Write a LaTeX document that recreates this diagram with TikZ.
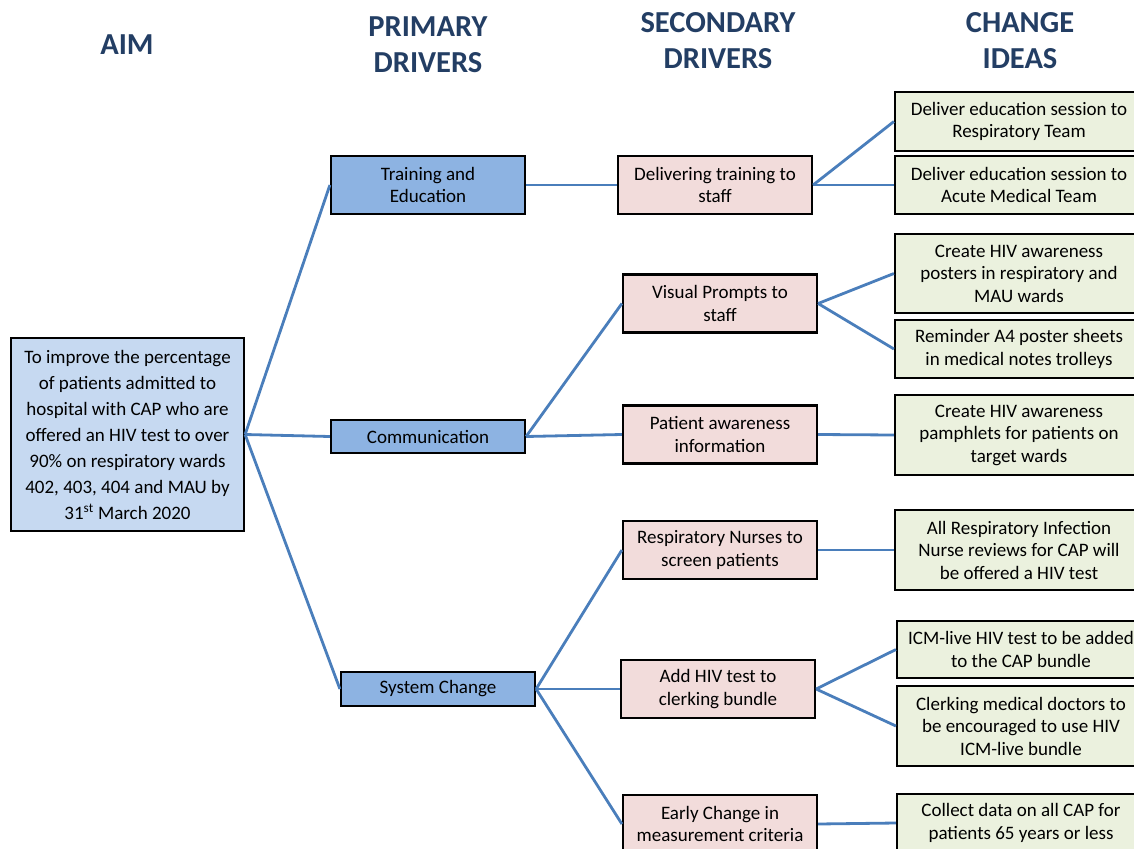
\documentclass[tikz,border=0pt]{standalone}
\usepackage{fontspec}
\setmainfont{Carlito}
\definecolor{hdr}{RGB}{35,62,100}
\definecolor{aimfill}{RGB}{198,217,241}
\definecolor{primfill}{RGB}{141,179,226}
\definecolor{secfill}{RGB}{242,220,219}
\definecolor{chgfill}{RGB}{235,241,222}
\definecolor{link}{RGB}{74,126,187}
\begin{document}
\begin{tikzpicture}[x=1pt,y=-1pt,
  box/.style={draw=black,line width=2.2pt,align=center,inner sep=0pt,
    font=\fontsize{19}{22.5}\selectfont},
  aimbox/.style={box,fill=aimfill,minimum width=233pt,minimum height=193pt,
    font=\fontsize{19}{26}\selectfont},
  prim/.style={box,fill=primfill,minimum width=194pt},
  sec/.style={box,fill=secfill,minimum width=194pt,minimum height=58pt},
  chg/.style={box,fill=chgfill,minimum width=248pt},
  head/.style={align=center,text=hdr,font=\fontsize{30.5}{36}\selectfont\bfseries},
  conn/.style={draw=link,line width=2.8pt}]
\useasboundingbox (0,0) rectangle (1134,848);
% headers
\node[head] (h1) at (127,45) {AIM};
\node[head] (h2) at (428,45) {PRIMARY\\DRIVERS};
\node[head] (h3) at (718,41) {SECONDARY\\DRIVERS};
\node[head] (h4) at (1020,41) {CHANGE\\IDEAS};
% aim
\node[aimbox] (aim) at (127.5,434.5) {To improve the percentage\\of patients admitted to\\hospital with CAP who are\\offered an HIV test to over\\90\% on respiratory wards\\402, 403, 404 and MAU by\\31\textsuperscript{st} March 2020};
% primary
\node[prim,minimum height=58pt] (p1) at (428,185) {Training and\\Education};
\node[prim,minimum height=33pt] (p2) at (428,436.5) {Communication};
\node[prim,minimum height=34pt] (p3) at (438,689) {System Change};
% secondary
\node[sec] (s1) at (715,185) {Delivering training to\\staff};
\node[sec] (s2) at (720,303.5) {Visual Prompts to\\staff};
\node[sec] (s3) at (720,434.5) {Patient awareness\\information};
\node[sec] (s4) at (720,550) {Respiratory Nurses to\\screen patients};
\node[sec] (s5) at (718,689) {Add HIV test to\\clerking bundle};
\node[sec] (s6) at (720,824) {Early Change in\\measurement criteria};
% change ideas
\node[chg,minimum height=59pt] (c1) at (1019,121.5) {Deliver education session to\\Respiratory Team};
\node[chg,minimum height=58pt] (c2) at (1019,185) {Deliver education session to\\Acute Medical Team};
\node[chg,minimum height=79pt] (c3) at (1019,273.5) {Create HIV awareness\\posters in respiratory and\\MAU wards};
\node[chg,minimum height=58pt] (c4) at (1019,349) {Reminder A4 poster sheets\\in medical notes trolleys};
\node[chg,minimum height=80pt] (c5) at (1019,435) {Create HIV awareness\\pamphlets for patients on\\target wards};
\node[chg,minimum height=80pt] (c6) at (1019,550) {All Respiratory Infection\\Nurse reviews for CAP will\\be offered a HIV test};
\node[chg,minimum height=57pt] (c7) at (1021,649.5) {ICM-live HIV test to be added\\to the CAP bundle};
\node[chg,minimum height=80pt] (c8) at (1021,726) {Clerking medical doctors to\\be encouraged to use HIV\\ICM-live bundle};
\node[chg,minimum height=58pt] (c9) at (1021,823) {Collect data on all CAP for\\patients 65 years or less};
% connectors
\draw[conn] (aim.east) -- (p1.west);
\draw[conn] (aim.east) -- (p2.west);
\draw[conn] (aim.east) -- (p3.west);
\draw[conn] (p1.east) -- (s1.west);
\draw[conn] (p2.east) -- (s2.west);
\draw[conn] (p2.east) -- (s3.west);
\draw[conn] (p3.east) -- (s4.west);
\draw[conn] (p3.east) -- (s5.west);
\draw[conn] (p3.east) -- (s6.west);
\draw[conn] (s1.east) -- (c1.west);
\draw[conn] (s1.east) -- (c2.west);
\draw[conn] (s2.east) -- (c3.west);
\draw[conn] (s2.east) -- (c4.west);
\draw[conn] (s3.east) -- (c5.west);
\draw[conn] (s4.east) -- (c6.west);
\draw[conn] (s5.east) -- (c7.west);
\draw[conn] (s5.east) -- (c8.west);
\draw[conn] (s6.east) -- (c9.west);
\end{tikzpicture}
\end{document}
